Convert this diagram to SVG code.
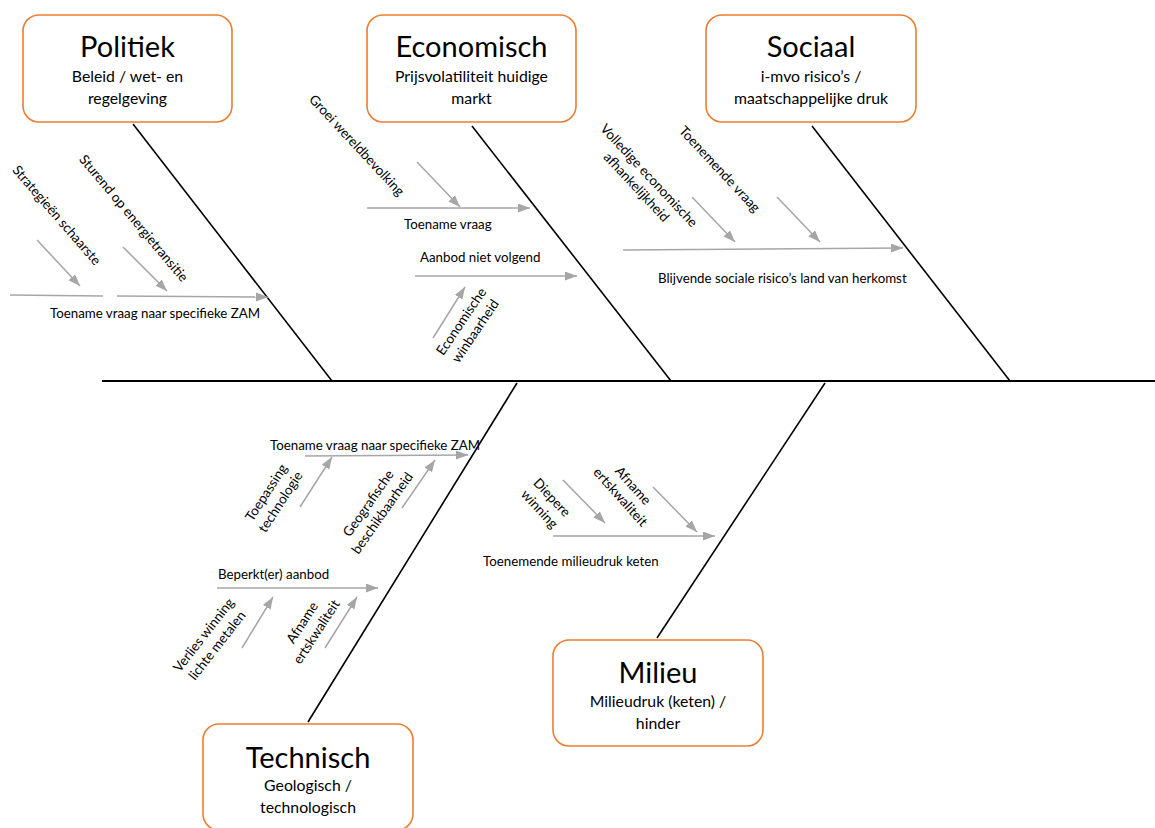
<svg xmlns="http://www.w3.org/2000/svg" width="1155" height="828" viewBox="0 0 1155 828">
  <defs>
    <marker id="head" markerUnits="userSpaceOnUse" markerWidth="13" markerHeight="10" refX="12" refY="4.5" orient="auto">
      <path d="M0,0 L12,4.5 L0,9 z" fill="#a6a6a6"/>
    </marker>
    <style>
      .box { fill: #ffffff; stroke: #ed7d31; stroke-width: 1.6; }
      .title { font-family: Lato, "Liberation Sans", sans-serif; font-size: 29px; fill: #000; text-anchor: middle; }
      .sub { font-family: Lato, "Liberation Sans", sans-serif; font-size: 15.8px; fill: #000; text-anchor: middle; }
      .bone { stroke: #000; stroke-width: 1.6; fill: none; }
      .spine { stroke: #000; stroke-width: 2; fill: none; }
      .arr { stroke: #a6a6a6; stroke-width: 1.5; fill: none; marker-end: url(#head); }
      .plain { stroke: #a6a6a6; stroke-width: 1.5; fill: none; }
      .lbl { font-family: Lato, "Liberation Sans", sans-serif; font-size: 13.3px; fill: #000; }
      .rot { font-family: Lato, "Liberation Sans", sans-serif; font-size: 13.5px; fill: #000; text-anchor: middle; dominant-baseline: central; }
    </style>
  </defs>
  <rect width="1155" height="828" fill="#ffffff"/>

  <!-- spine and main bones -->
  <g id="connectors">
    <line class="spine" x1="102" y1="381" x2="1155" y2="381"/>
    <line class="bone" x1="133" y1="124" x2="332" y2="381"/>
    <line class="bone" x1="472" y1="126" x2="671" y2="381"/>
    <line class="bone" x1="812" y1="126" x2="1010" y2="381"/>
    <line class="bone" x1="517" y1="383" x2="308" y2="722"/>
    <line class="bone" x1="825" y1="383" x2="657" y2="638"/>

    <!-- Politiek causes -->
    <line class="plain" x1="10" y1="295" x2="103" y2="296"/>
    <line class="arr" x1="117" y1="296" x2="268" y2="297"/>
    <line class="arr" x1="37" y1="240" x2="80" y2="286"/>
    <line class="arr" x1="123" y1="247" x2="167" y2="291"/>

    <!-- Economisch causes -->
    <line class="arr" x1="367" y1="208" x2="530" y2="208"/>
    <line class="arr" x1="417" y1="162" x2="460" y2="207"/>
    <line class="arr" x1="415" y1="276" x2="577" y2="276"/>
    <line class="arr" x1="433" y1="338" x2="465" y2="287"/>

    <!-- Sociaal causes -->
    <line class="arr" x1="623" y1="250" x2="903" y2="248"/>
    <line class="arr" x1="692" y1="197" x2="735" y2="242"/>
    <line class="arr" x1="777" y1="197" x2="820" y2="242"/>

    <!-- Technisch causes -->
    <line class="arr" x1="305" y1="456" x2="468" y2="455"/>
    <line class="arr" x1="300" y1="507" x2="332" y2="457"/>
    <line class="arr" x1="402" y1="508" x2="435" y2="460"/>
    <line class="arr" x1="217" y1="588" x2="378" y2="588"/>
    <line class="arr" x1="242" y1="648" x2="273" y2="597"/>
    <line class="arr" x1="325" y1="648" x2="357" y2="597"/>

    <!-- Milieu causes -->
    <line class="arr" x1="563" y1="480" x2="605" y2="523"/>
    <line class="arr" x1="653" y1="487" x2="697" y2="532"/>
    <line class="arr" x1="553" y1="536" x2="715" y2="536"/>
  </g>

  <!-- cause labels -->
  <g id="labels">
    <text class="lbl" x="50" y="318">Toename vraag naar specifieke ZAM</text>
    <text class="rot" transform="translate(57,215) rotate(49)">Strategieën schaarste</text>
    <text class="rot" transform="translate(134,218) rotate(50)">Sturend op energietransitie</text>

    <text class="rot" transform="translate(357,145) rotate(47)">Groei wereldbevolking</text>
    <text class="lbl" x="404" y="229">Toename vraag</text>
    <text class="lbl" x="420" y="262">Aanbod niet volgend</text>
    <text class="rot" transform="translate(468,326) rotate(-56)"><tspan x="0" dy="-8.5">Economische</tspan><tspan x="0" dy="17">winbaarheid</tspan></text>

    <text class="rot" transform="translate(643,181) rotate(47)"><tspan x="0" dy="-8.5">Volledige economische</tspan><tspan x="0" dy="17">afhankelijkheid</tspan></text>
    <text class="rot" transform="translate(720,169) rotate(47)">Toenemende vraag</text>
    <text class="lbl" x="658" y="283">Blijvende sociale risico’s land van herkomst</text>

    <text class="lbl" x="270" y="450">Toename vraag naar specifieke ZAM</text>
    <text class="rot" transform="translate(273,497) rotate(-57)"><tspan x="0" dy="-8.5">Toepassing</tspan><tspan x="0" dy="17">technologie</tspan></text>
    <text class="rot" transform="translate(375,508) rotate(-55)"><tspan x="0" dy="-8.5">Geografische</tspan><tspan x="0" dy="17">beschikbaarheid</tspan></text>
    <text class="lbl" x="218" y="579">Beperkt(er) aanbod</text>
    <text class="rot" transform="translate(210,640) rotate(-52)"><tspan x="0" dy="-8.5">Verlies winning</tspan><tspan x="0" dy="17">lichte metalen</tspan></text>
    <text class="rot" transform="translate(309,627) rotate(-57)"><tspan x="0" dy="-8.5">Afname</tspan><tspan x="0" dy="17">ertskwaliteit</tspan></text>

    <text class="rot" transform="translate(546,503) rotate(47)"><tspan x="0" dy="-8.5">Diepere</tspan><tspan x="0" dy="17">winning</tspan></text>
    <text class="rot" transform="translate(627,491) rotate(48)"><tspan x="0" dy="-8.5">Afname</tspan><tspan x="0" dy="17">ertskwaliteit</tspan></text>
    <text class="lbl" x="483" y="566">Toenemende milieudruk keten</text>
  </g>

  <!-- category nodes -->
  <g id="politiek">
    <rect class="box" x="23" y="15" width="209" height="107" rx="16"/>
    <text class="title" x="127.5" y="57">Politiek</text>
    <text class="sub" x="127.5" y="82">Beleid / wet- en</text>
    <text class="sub" x="127.5" y="104">regelgeving</text>
  </g>
  <g id="economisch">
    <rect class="box" x="367" y="15" width="209" height="107" rx="16"/>
    <text class="title" x="471.5" y="57">Economisch</text>
    <text class="sub" x="471.5" y="82">Prijsvolatiliteit huidige</text>
    <text class="sub" x="471.5" y="104">markt</text>
  </g>
  <g id="sociaal">
    <rect class="box" x="706" y="15" width="210" height="107" rx="16"/>
    <text class="title" x="811" y="57">Sociaal</text>
    <text class="sub" x="811" y="82">i-mvo risico’s /</text>
    <text class="sub" x="811" y="104">maatschappelijke druk</text>
  </g>
  <g id="technisch">
    <rect class="box" x="203" y="724" width="210" height="106" rx="16"/>
    <text class="title" x="308" y="768">Technisch</text>
    <text class="sub" x="308" y="791">Geologisch /</text>
    <text class="sub" x="308" y="813">technologisch</text>
  </g>
  <g id="milieu">
    <rect class="box" x="553" y="640" width="210" height="106" rx="16"/>
    <text class="title" x="658" y="683">Milieu</text>
    <text class="sub" x="658" y="707">Milieudruk (keten) /</text>
    <text class="sub" x="658" y="729">hinder</text>
  </g>
</svg>
